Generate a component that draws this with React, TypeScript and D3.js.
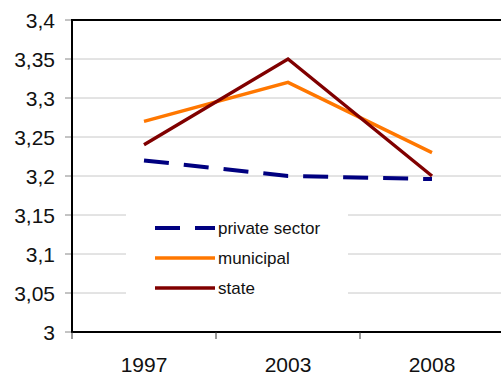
import React from "react";
import * as d3 from "d3";

const years = ["1997", "2003", "2008"];
const privateSector = [3.22, 3.2, 3.196];
const municipal = [3.27, 3.32, 3.23];
const stateSchools = [3.24, 3.35, 3.2];
const yTicks = [3, 3.05, 3.1, 3.15, 3.2, 3.25, 3.3, 3.35, 3.4];

const series = [
  { name: "private sector", values: privateSector, color: "#000080", width: 4, dash: "25 15" },
  { name: "municipal", values: municipal, color: "#ff7700", width: 3.4, dash: "" },
  { name: "state", values: stateSchools, color: "#800000", width: 3.4, dash: "" },
];

const W = 501;
const H = 378;
const left = 72;
const right = 504;
const top = 20;
const bottom = 332;
const font = "'Liberation Sans', Arial, sans-serif";

const fmt = (v: number) => String(+v.toFixed(2)).replace(".", ",");

export default function App() {
  const x = d3.scaleBand<string>().domain(years).range([left, right]);
  const y = d3.scaleLinear().domain([3, 3.4]).range([bottom, top]);
  const cx = (d: string) => (x(d) as number) + x.bandwidth() / 2;
  const line = d3
    .line<number>()
    .x((_, i) => cx(years[i]))
    .y((v) => y(v));

  const boundaries = years.map((d) => x(d) as number).concat([right]);

  return (
    <svg
      width={W}
      height={H}
      style={{ position: "absolute", left: 0, top: 0, background: "#fff" }}
      fontFamily={font}
    >
      {yTicks.map((t) => (
        <g key={t}>
          {t > 3 && t < 3.4 && (
            <line x1={left} x2={W} y1={y(t)} y2={y(t)} stroke="#c8c8c8" strokeWidth={1} />
          )}
          <line x1={left - 7} x2={left} y1={y(t)} y2={y(t)} stroke="#888" strokeWidth={1} />
          <text x={55} y={y(t)} dy="0.36em" textAnchor="end" fontSize={21} fill="#111">
            {fmt(t)}
          </text>
        </g>
      ))}

      {/* frame: top border, left axis, bottom axis */}
      <line x1={left} x2={W} y1={top} y2={top} stroke="#000" strokeWidth={2} />
      <line x1={left} x2={left} y1={top - 1} y2={bottom + 1} stroke="#000" strokeWidth={2} />
      <line x1={left} x2={W} y1={bottom} y2={bottom} stroke="#000" strokeWidth={2} />

      {boundaries.map((b, i) => (
        <line key={i} x1={b} x2={b} y1={bottom} y2={bottom + 7} stroke="#333" strokeWidth={1} />
      ))}
      {years.map((d) => (
        <text key={d} x={cx(d)} y={372} textAnchor="middle" fontSize={21} fill="#111">
          {d}
        </text>
      ))}

      {series.map((s) => (
        <path
          key={s.name}
          d={line(s.values) as string}
          fill="none"
          stroke={s.color}
          strokeWidth={s.width}
          strokeDasharray={s.dash || undefined}
          strokeLinejoin="miter"
        />
      ))}

      {/* legend */}
      <rect x={126} y={205} width={222} height={100} fill="#fff" />
      {series.map((s, i) => {
        const ly = 228 + i * 30;
        return (
          <g key={s.name}>
            <line
              x1={155}
              x2={215}
              y1={ly}
              y2={ly}
              stroke={s.color}
              strokeWidth={s.width}
              strokeDasharray={s.dash || undefined}
            />
            <text x={218} y={ly} dy="0.36em" fontSize={17} fill="#111">
              {s.name}
            </text>
          </g>
        );
      })}
    </svg>
  );
}
